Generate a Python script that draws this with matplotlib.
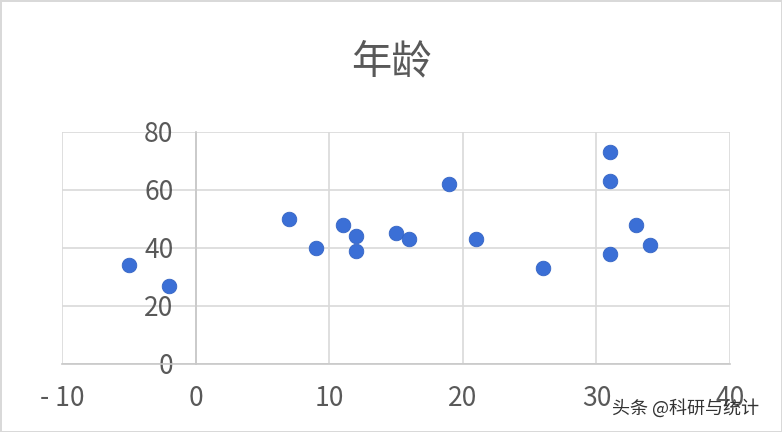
import matplotlib
matplotlib.use("Agg")
import matplotlib.pyplot as plt

plt.rcParams['font.family'] = ['Noto Sans CJK SC', 'DejaVu Sans']
plt.rcParams['axes.unicode_minus'] = False

# data
x_vals = [-5, -2, 7, 9, 11, 12, 12, 15, 16, 19, 21, 26, 31, 31, 31, 33, 34]
age = [34, 27, 50, 40, 48, 44, 39, 45, 43, 62, 43, 33, 73, 63, 38, 48, 41]
x_ticks = [-10, 0, 10, 20, 30, 40]
y_ticks = [0, 20, 40, 60, 80]
title = "年龄"
watermark = "头条 @科研与统计"

grey_txt = "#595959"
grid_c = "#d9d9d9"

fig = plt.figure(figsize=(7.82, 4.32), dpi=100)
fig.patch.set_edgecolor(grid_c)
fig.patch.set_linewidth(2)
ax = fig.add_axes([62/782, 1 - 364/432, 668/782, 232/432])

ax.scatter(x_vals, age, s=110, color="#3b6fd6", edgecolors="#3464c4",
           linewidths=0.6, zorder=3, clip_on=False)

ax.set_xlim(-10, 40)
ax.set_ylim(0, 80)
ax.set_xticks(x_ticks)
ax.set_yticks(y_ticks)
ax.set_xticklabels(["- 10" if t < 0 else str(t) for t in x_ticks])
ax.grid(True, color=grid_c, linewidth=1.2, zorder=0)
ax.set_axisbelow(True)

for s in ["top", "right"]:
    ax.spines[s].set_visible(False)
ax.spines['left'].set_position(('data', 0))
ax.spines['left'].set_color("#c8c8c8")
ax.spines['bottom'].set_color("#c8c8c8")
ax.spines['left'].set_linewidth(1.2)
ax.spines['bottom'].set_linewidth(1.2)
ax.tick_params(axis='both', length=0, labelsize=19, labelcolor=grey_txt)
ax.tick_params(axis='x', pad=15)
ax.tick_params(axis='y', pad=16)

fig.text(0.5, 1 - 62/432, title, ha='center', va='center', fontsize=29,
         color=grey_txt)
fig.text(686/782, 1 - 408/432, watermark, ha='center', va='center',
         fontsize=13, color="#333333")

fig.savefig("out.png", dpi=100)
